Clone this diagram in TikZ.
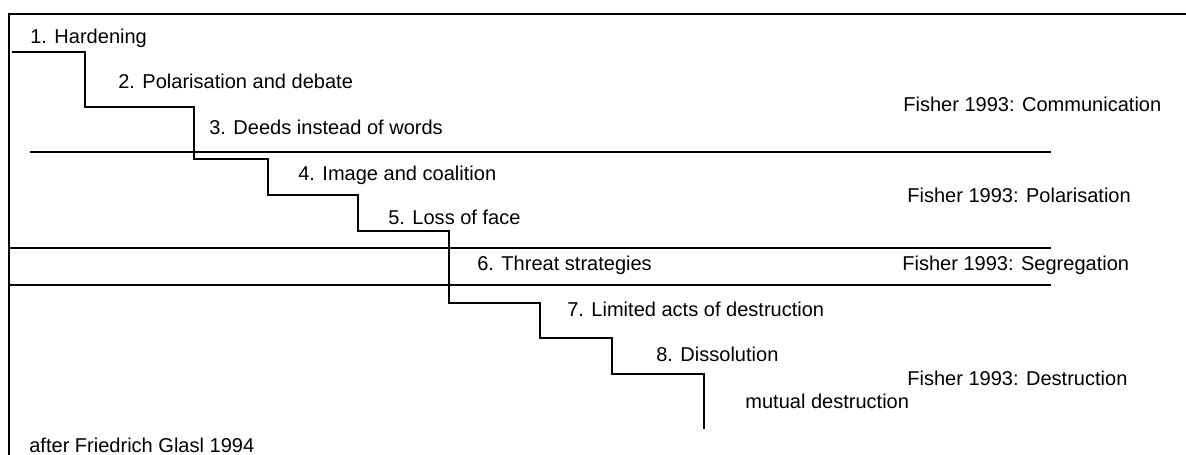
\documentclass[tikz,border=0pt]{standalone}
\usepackage{fontspec}
\setmainfont{Liberation Sans}
\tikzset{
  stagelabel/.style={anchor=base west, inner sep=0pt, font=\fontsize{11.4}{13}\selectfont},
  stair/.style={line width=0.8pt},
  bandline/.style={line width=0.8pt}
}
\begin{document}
\begin{tikzpicture}[x=0.02cm, y=-0.02cm]
	\useasboundingbox (0,0) rectangle (1186,455);
	\clip (0,0) rectangle (1186,455);

	% frame, cut off at right and bottom
	\draw[line width=0.9pt] (9,470) -- (9,14) -- (1200,14);

	% escalation staircase
	\draw[stair] (12,52) -| (85,107) -| (194,159) -| (268,195) -| (358,231)
	   -| (449,303) -| (540,338) -| (612,374) -| (704,429);

	% Fisher bands
	\draw[bandline] (30,152) -- (1051,152);
	\draw[bandline] (10,248) -- (1051,248);
	\draw[bandline] (10,285) -- (1051,285);

	\foreach \i/\x/\y/\t in {1/30/44/Hardening, 2/118/89/Polarisation and debate,
	   3/209/135/Deeds instead of words, 4/298/181/Image and coalition,
	   5/388/225/Loss of face, 6/477/271/Threat strategies,
	   7/567/317/Limited acts of destruction, 8/656/362/Dissolution}{
	  \node[stagelabel] (stage\i) at (\x,\y) {\i. \t};
	}
	\node[stagelabel] (mutual) at (745,409) {mutual destruction};

	\foreach \n/\x/\y/\t in {comm/903/112/Communication, pol/907/203/Polarisation,
	   seg/902/271/Segregation, destr/907/386/Destruction}{
	  \node[stagelabel] (fisher\n) at (\x,\y) {Fisher 1993: \t};
	}

	\node[stagelabel] (source) at (29,453) {after Friedrich Glasl 1994};
\end{tikzpicture}
\end{document}
